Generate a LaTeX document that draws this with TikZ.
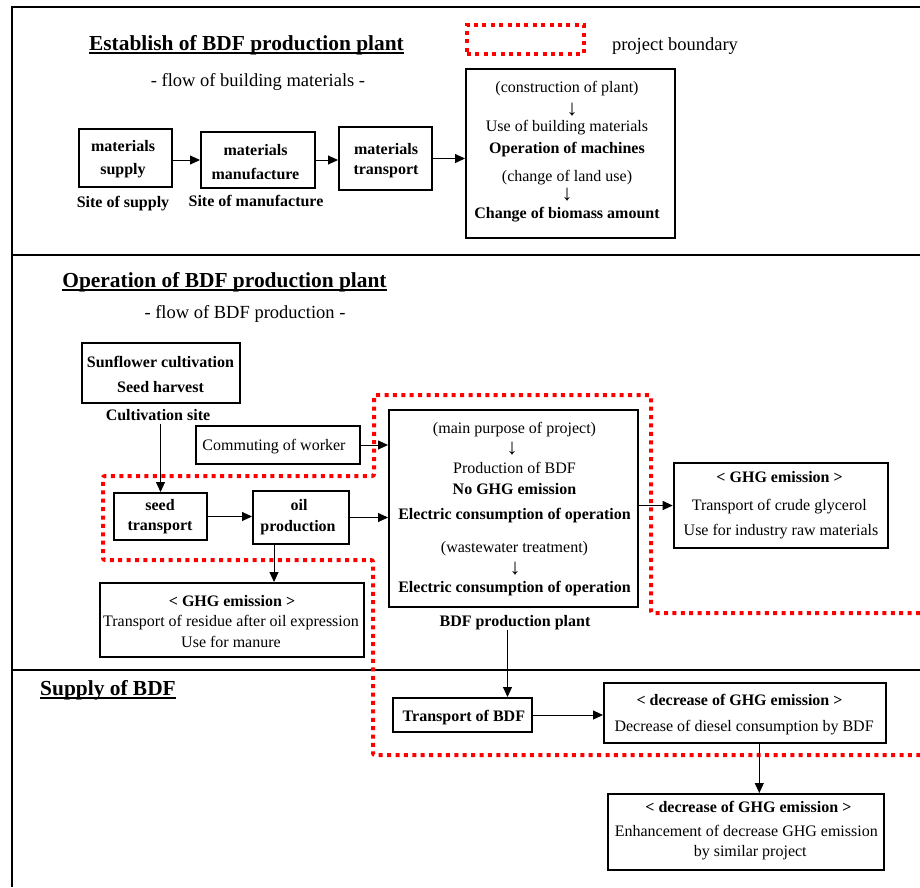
\documentclass[tikz,border=0pt]{standalone}
\usepackage{fontspec}
\setmainfont{Liberation Serif}
\usetikzlibrary{arrows.meta,calc}
\newcommand\myul[1]{\setbox0=\hbox{#1}\rlap{\rule[-4pt]{\wd0}{1.6pt}}\box0}
\begin{document}
\begin{tikzpicture}[x=1pt,y=-1pt,
  box/.style={draw,line width=2pt,inner sep=0},
  tx/.style={inner sep=0,font=\fontsize{16}{19}\selectfont,text height=11.5pt,text depth=3.5pt},
  bt/.style={tx,font=\fontsize{16}{19}\selectfont\bfseries},
  dn/.style={inner sep=0,font=\fontsize{22}{22}\selectfont},
  head/.style={inner sep=0,anchor=base,font=\fontsize{21.4}{25}\selectfont\bfseries},
  sub/.style={inner sep=0,font=\fontsize{18.5}{22}\selectfont,text height=13pt,text depth=4pt},
  conn/.style={line width=0.9pt,-{Triangle[length=10pt,width=9pt]}},
  bound/.style={draw=red,line width=4pt,dash pattern=on 4pt off 4.4pt},
  sect/.style={line width=2pt}]
\useasboundingbox (0,0) rectangle (920,887);

% section frame
\draw[sect] (920,7) -- (12,7) -- (12,887);
\draw[sect] (12,255) -- (920,255);
\draw[sect] (12,670) -- (920,670);

% ---------- top section ----------
\node[head] (h1) at (246.5,50) {\myul{Establish of BDF production plant}};
\node[sub] (s1) at (258,82) {- flow of building materials -};
\node[bound,minimum width=117pt,minimum height=29pt,inner sep=0] (legend) at (525.5,39.5) {};
\node[sub] (legtxt) at (675,45.5) {project boundary};

\node[box,minimum width=93pt,minimum height=58pt] (ms) at (125.5,158) {};
\node[bt] (ms1) at (123,147.5) {materials};
\node[bt] (ms2) at (123,170.5) {supply};
\node[bt] (ss) at (123,203) {Site of supply};

\node[box,minimum width=114pt,minimum height=56pt] (mm) at (258,160) {};
\node[bt] (mm1) at (255.5,151) {materials};
\node[bt] (mm2) at (255.5,175) {manufacture};
\node[bt] (sm) at (256,202) {Site of manufacture};

\node[box,minimum width=93pt,minimum height=63pt] (mt) at (385.5,158.5) {};
\node[bt] (mt1) at (386,150) {materials};
\node[bt] (mt2) at (386,170) {transport};

\node[box,minimum width=209pt,minimum height=169pt] (cons) at (570.5,153.5) {};
\node[tx] (c1) at (567,88.7) {(construction of plant)};
\node[dn] (c2) at (572,110) {↓};
\node[tx] (c3) at (567,127.7) {Use of building materials};
\node[bt] (c4) at (567,149) {Operation of machines};
\node[tx] (c5) at (567,177.7) {(change of land use)};
\node[dn] (c6) at (567,195) {↓};
\node[bt] (c7) at (567,214) {Change of biomass amount};

\draw[conn] (ms.east |- mm.west) -- (mm.west);
\draw[conn] (mm.east) -- (mm.east -| mt.west);
\draw[conn] (mt.east) -- (mt.east -| cons.west);

% ---------- middle section ----------
\node[head] (h2) at (224.5,287) {\myul{Operation of BDF production plant}};
\node[sub] (s2) at (245,314) {- flow of BDF production -};

\draw[bound,rounded corners=2pt] (920,613) -- (651,613) -- (651,395) -- (374,395) -- (374,476) -- (103,476) -- (103,560) -- (373,560) -- (373,755) -- (920,755);

\node[box,minimum width=158pt,minimum height=60pt] (sun) at (161,373) {};
\node[bt] (sun1) at (160.5,363) {Sunflower cultivation};
\node[bt] (sun2) at (160.5,388.7) {Seed harvest};
\node[bt] (cult) at (158,416) {Cultivation site};

\node[box,minimum width=164pt,minimum height=38pt] (comm) at (278,445) {};
\node[tx] (comm1) at (274,446.7) {Commuting of worker};

\node[box,minimum width=93pt,minimum height=47pt] (seed) at (160.5,516.5) {};
\node[bt] (seed1) at (160,506) {seed};
\node[bt] (seed2) at (160,526) {transport};

\node[box,minimum width=96pt,minimum height=53pt] (oil) at (301,517.5) {};
\node[bt] (oil1) at (299,506) {oil};
\node[bt] (oil2) at (298,527) {production};

\node[box,minimum width=264pt,minimum height=74pt] (ghgL) at (232,620) {};
\node[bt] (gl1) at (232,602.7) {< GHG emission >};
\node[tx] (gl2) at (231,622.7) {Transport of residue after oil expression};
\node[tx] (gl3) at (231,643) {Use for manure};

\node[box,minimum width=249pt,minimum height=197pt] (bdf) at (513.5,508) {};
\node[tx] (b1) at (514.5,429.5) {(main purpose of project)};
\node[dn] (b2) at (512,449) {↓};
\node[tx] (b3) at (514.5,469.5) {Production of BDF};
\node[bt] (b4) at (514.5,490) {No GHG emission};
\node[bt] (b5) at (514.5,515.5) {Electric consumption of operation};
\node[tx] (b6) at (514.5,548.5) {(wastewater treatment)};
\node[dn] (b7) at (515,569) {↓};
\node[bt] (b8) at (514.5,588.5) {Electric consumption of operation};
\node[bt] (bdfl) at (515,622) {BDF production plant};

\node[box,minimum width=214pt,minimum height=85pt] (ghgR) at (780.7,505.5) {};
\node[bt] (gr1) at (779.6,478.7) {< GHG emission >};
\node[tx] (gr2) at (779.3,506) {Transport of crude glycerol};
\node[tx] (gr3) at (781,531) {Use for industry raw materials};

\draw[conn] (seed.north |- cult.south) -- (seed.north);
\draw[conn] (comm.east) -- (comm.east -| bdf.west);
\draw[conn] (seed.east) -- (seed.east -| oil.west);
\draw[conn] (oil.east) -- (oil.east -| bdf.west);
\draw[conn] ([xshift=-27pt]oil.south) -- ([xshift=-27pt]oil.south |- ghgL.north);
\draw[conn] (bdf.east |- ghgR.west) -- (ghgR.west);

% ---------- bottom section ----------
\node[head] (h3) at (108,695) {\myul{Supply of BDF}};

\node[box,minimum width=139pt,minimum height=34pt] (tb) at (462.9,715) {};
\node[bt] (tb1) at (463.9,717) {Transport of BDF};

\node[box,minimum width=282pt,minimum height=60pt] (dec1) at (745,713) {};
\node[bt] (d11) at (739.5,701) {< decrease of GHG emission >};
\node[tx] (d12) at (744.1,727.7) {Decrease of diesel consumption by BDF};

\node[box,minimum width=275.4pt,minimum height=76pt] (dec2) at (745.9,832) {};
\node[bt] (d21) at (748.4,808.7) {< decrease of GHG emission >};
\node[tx] (d22) at (746.3,832.7) {Enhancement of decrease GHG emission};
\node[tx] (d23) at (750.2,852.7) {by similar project};

\draw[conn] ([xshift=-7.5pt]bdfl.south) -- ([xshift=-7.5pt]bdfl.south |- tb.north);
\draw[conn] (tb.east) -- (tb.east -| dec1.west);
\draw[conn] ([xshift=14.3pt]dec1.south) -- ([xshift=14.3pt]dec1.south |- dec2.north);
\end{tikzpicture}
\end{document}
